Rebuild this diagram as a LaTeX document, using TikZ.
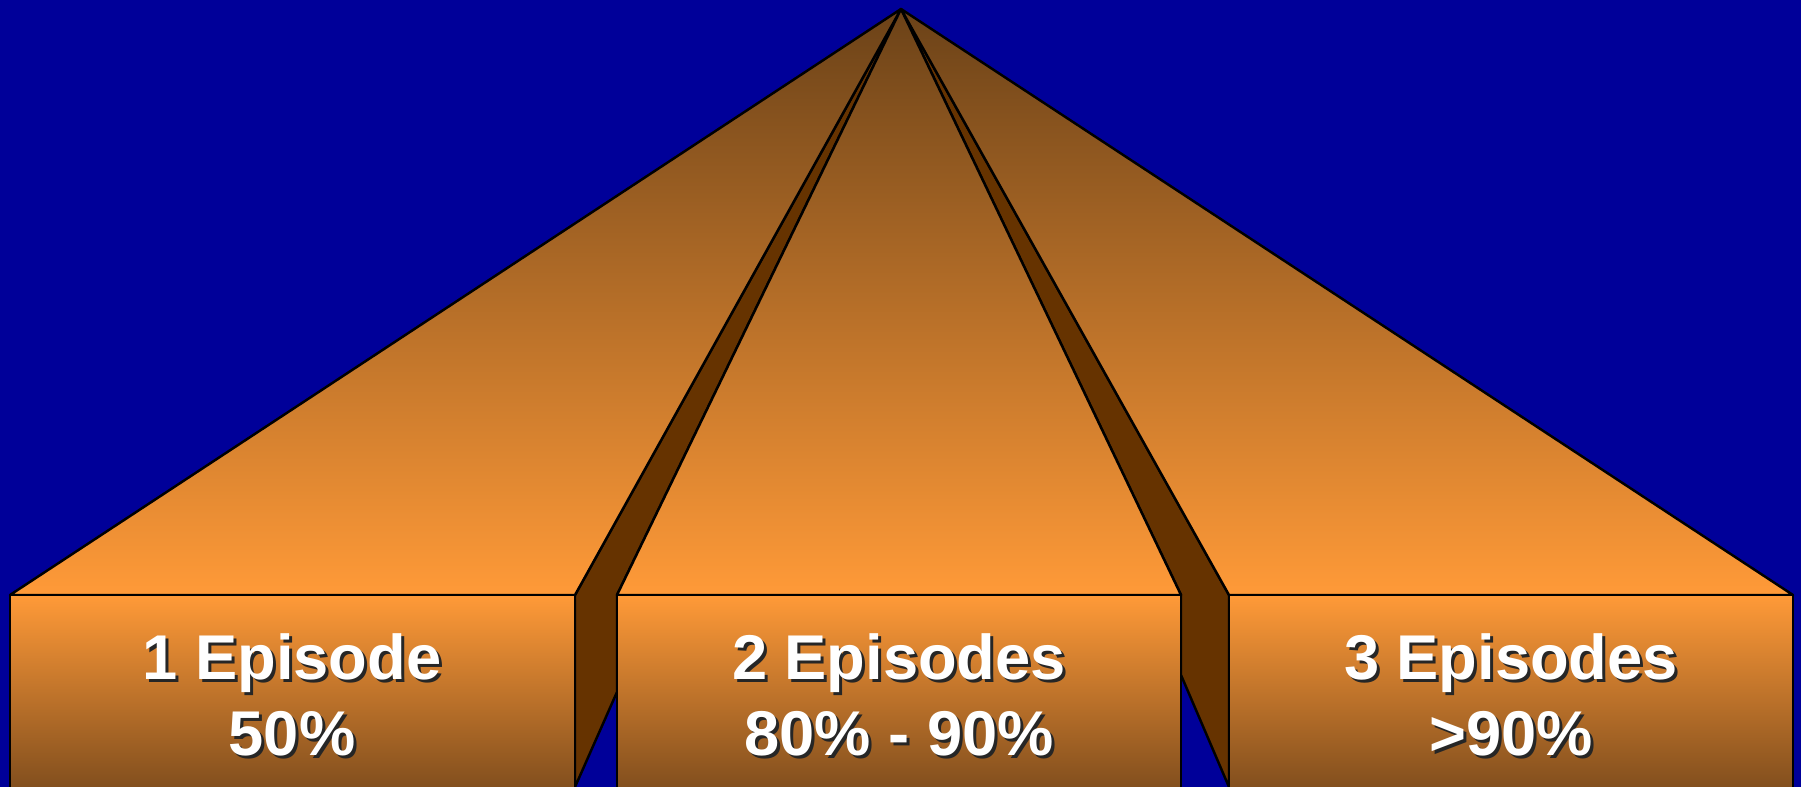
\documentclass[tikz,border=0pt]{standalone}
\usepackage{fontspec}
\setmainfont{Liberation Sans}
\usetikzlibrary{positioning}

\definecolor{bgblue}{HTML}{000099}
\definecolor{pyrtop}{HTML}{6B4218}
\definecolor{pyrorange}{HTML}{FF9A38}
\definecolor{boxbot}{HTML}{7A4A1C}
\definecolor{sidebrown}{HTML}{663300}

\begin{document}
\begin{tikzpicture}[x=0.02cm, y=-0.02cm,
    face/.style={top color=pyrtop, bottom color=pyrorange, draw=black, line width=1.4pt, line join=round},
    box/.style={top color=pyrorange, bottom color=boxbot, draw=black, line width=1.4pt},
    side/.style={fill=sidebrown, draw=black, line width=1.4pt, line join=round},
    lbl/.style={text=white, font=\bfseries\fontsize{36}{43}\selectfont, align=center},
    lblshadow/.style={lbl, text=black!85}]
    \useasboundingbox (0,0) rectangle (1801,787);
    \fill[bgblue] (0,0) rectangle (1801,787);
    \clip (0,0) rectangle (1801,787);

    \coordinate (apex) at (901,9);

    % Side faces between the prisms
    \draw[side] (apex) -- (575,595) -- (575,787) -- (617,692) -- (617,595) -- cycle;
    \draw[side] (apex) -- (1181,595) -- (1181,675) -- (1229,787) -- (1229,595) -- cycle;

    % Top faces
    \shade[face] (apex) -- (10,595) -- (575,595) -- cycle;
    \shade[face] (apex) -- (617,595) -- (1181,595) -- cycle;
    \shade[face] (apex) -- (1229,595) -- (1793,595) -- cycle;

    % Front boxes
    \shade[box] (10,595) rectangle (575,800);
    \shade[box] (617,595) rectangle (1181,800);
    \shade[box] (1229,595) rectangle (1793,800);

    % Labels with drop shadow
    \node[lblshadow] (ep1s) at (295,698) {1 Episode\\50\%};
    \node[lbl] (ep1) at (292,695) {1 Episode\\50\%};
    \node[lblshadow] (ep2s) at (902,698) {2 Episodes\\80\% - 90\%};
    \node[lbl] (ep2) at (899,695) {2 Episodes\\80\% - 90\%};
    \node[lblshadow] (ep3s) at (1514,698) {3 Episodes\\>90\%};
    \node[lbl] (ep3) at (1511,695) {3 Episodes\\>90\%};
\end{tikzpicture}
\end{document}
